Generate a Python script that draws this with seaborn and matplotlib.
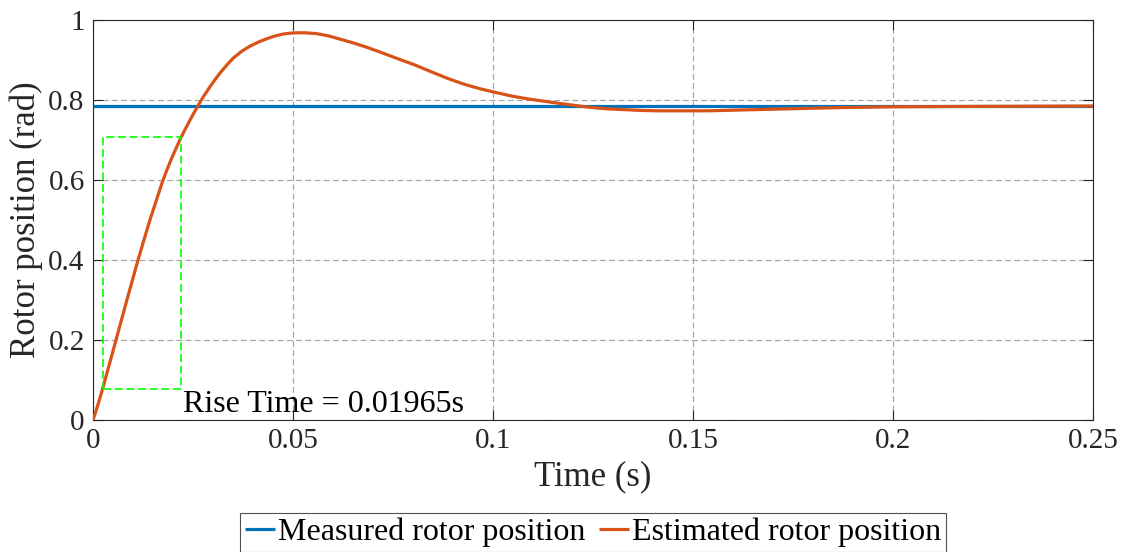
import numpy as np
import pandas as pd
import seaborn as sns
import matplotlib
matplotlib.use("Agg")
import matplotlib.pyplot as plt

# Step response samples (time in s, position in rad)
time_s = [0, 0.0012, 0.0024, 0.0040, 0.0055, 0.0070, 0.0085, 0.0100, 0.0112,
          0.0127, 0.0142, 0.0158, 0.0173, 0.0185, 0.0196, 0.0208, 0.0219,
          0.0230, 0.0241, 0.0252, 0.0262, 0.0277, 0.0293, 0.0305, 0.0318,
          0.0335, 0.0351, 0.0372, 0.0393, 0.0414, 0.0434, 0.0455, 0.0476,
          0.0493, 0.0509, 0.0530, 0.0559, 0.0590, 0.0618, 0.0650, 0.0684,
          0.0720, 0.0768, 0.0801, 0.0842, 0.0884, 0.0926, 0.0968, 0.1010,
          0.1051, 0.1092, 0.1134, 0.1170, 0.1200, 0.1240, 0.1284, 0.1326,
          0.1368, 0.1410, 0.1450, 0.1540, 0.1620, 0.1740, 0.1870, 0.2000,
          0.2200, 0.2500]
estimated = [0, 0.037, 0.078, 0.136, 0.191, 0.246, 0.301, 0.355, 0.398,
             0.449, 0.499, 0.548, 0.594, 0.626, 0.653, 0.680, 0.704,
             0.726, 0.747, 0.767, 0.785, 0.810, 0.834, 0.851, 0.868,
             0.888, 0.905, 0.922, 0.935, 0.945, 0.953, 0.960, 0.965,
             0.967, 0.968, 0.968, 0.966, 0.960, 0.952, 0.943, 0.932,
             0.919, 0.901, 0.889, 0.872, 0.855, 0.840, 0.828, 0.818,
             0.809, 0.802, 0.796, 0.791, 0.787, 0.782, 0.778, 0.776,
             0.774, 0.773, 0.773, 0.773, 0.775, 0.778, 0.781, 0.783,
             0.784, 0.785]
measured_value = 0.785
measured_t = [0, 0.25]
measured = [measured_value, measured_value]

# Rise-time annotation (10 % to 90 % of final value)
t_10 = 0.0024
rise_time = 0.01965
y_10 = 0.1 * measured_value
y_90 = 0.9 * measured_value

x_ticks = [0, 0.05, 0.1, 0.15, 0.2, 0.25]
x_tick_labels = ["0", "0.05", "0.1", "0.15", "0.2", "0.25"]
y_ticks = [0, 0.2, 0.4, 0.6, 0.8, 1.0]
y_tick_labels = ["0", "0.2", "0.4", "0.6", "0.8", "1"]

sns.set_theme(style="white")
plt.rcParams["font.family"] = ["Liberation Serif", "DejaVu Serif"]

fig = plt.figure(figsize=(11.25, 5.52), dpi=100)
ax = fig.add_axes([93 / 1125, 1 - 420 / 552, 1000 / 1125, 400 / 552])

blue = "#0072BD"
orange = "#D95319"

df_meas = pd.DataFrame({"t": measured_t, "y": measured})
df_est = pd.DataFrame({"t": time_s, "y": estimated})

sns.lineplot(data=df_meas, x="t", y="y", ax=ax, color=blue, linewidth=2.3,
             label="Measured rotor position", sort=False, estimator=None, zorder=3)
sns.lineplot(data=df_est, x="t", y="y", ax=ax, color=orange, linewidth=2.3,
             label="Estimated rotor position", sort=False, estimator=None, zorder=4)
for ln in ax.get_lines():
    ln.set_solid_joinstyle("round")
    ln.set_solid_capstyle("butt")

# Rise-time box
t_90 = t_10 + rise_time
ax.plot([t_10, t_90, t_90, t_10, t_10], [y_10, y_10, y_90, y_90, y_10],
        color="#00FF00", linewidth=1.2, linestyle=(0, (4.8, 2.2)), zorder=5)
ax.text(t_90 + 0.0004, 0.021, f"Rise Time = {rise_time}s", fontsize=23,
        color="black", va="baseline", ha="left", zorder=6)

ax.set_xlim(0, 0.25)
ax.set_ylim(0, 1)
ax.set_xticks(x_ticks)
ax.set_xticklabels(x_tick_labels)
ax.set_yticks(y_ticks)
ax.set_yticklabels(y_tick_labels)

ax.grid(True, color="#a6a6a6", linewidth=0.85, linestyle=(0, (5, 2.8)))
ax.set_axisbelow(True)
for s in ax.spines.values():
    s.set_visible(True)
    s.set_color("#262626")
    s.set_linewidth(0.8)
ax.tick_params(direction="in", length=7, width=0.8, color="#262626",
               top=True, right=True, bottom=True, left=True,
               labelsize=21, labelcolor="#262626", pad=6)

ax.set_xlabel("Time (s)", fontsize=25, color="#262626", labelpad=4)
ax.set_ylabel("Rotor position (rad)", fontsize=25, color="#262626", labelpad=4)

ax.get_legend().remove()
handles, labels = ax.get_legend_handles_labels()
leg = fig.legend(handles, labels, loc="upper center", ncol=2,
                 bbox_to_anchor=(593 / 1125, 1 - 513 / 552),
                 bbox_transform=fig.transFigure, fontsize=23,
                 frameon=True, fancybox=False, handlelength=0.95,
                 handletextpad=0.1, columnspacing=0.4, borderpad=0.15,
                 borderaxespad=0)
leg.get_frame().set_edgecolor("#262626")
leg.get_frame().set_linewidth(0.8)
for txt in leg.get_texts():
    txt.set_color("black")

fig.savefig("out.png", dpi=100)
